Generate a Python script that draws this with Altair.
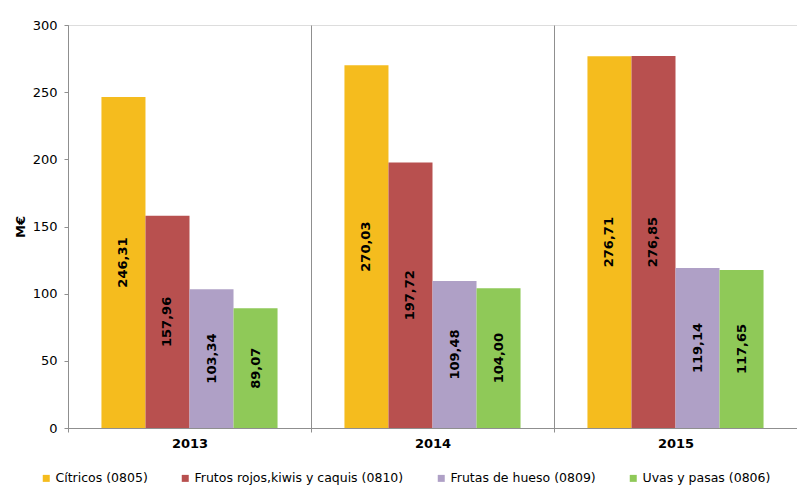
import altair as alt
import pandas as pd

years = ["2013", "2014", "2015"]
categories = ["Cítricos (0805)", "Frutos rojos,kiwis y caquis (0810)",
              "Frutas de hueso (0809)", "Uvas y pasas (0806)"]
values = {
    "Cítricos (0805)": [246.31, 270.03, 276.71],
    "Frutos rojos,kiwis y caquis (0810)": [157.96, 197.72, 276.85],
    "Frutas de hueso (0809)": [103.34, 109.48, 119.14],
    "Uvas y pasas (0806)": [89.07, 104.00, 117.65],
}
colors = ["#F5BC1E", "#B8504F", "#AFA0C6", "#8FC958"]

rows = []
for c in categories:
    for y, v in zip(years, values[c]):
        rows.append({"year": y, "cat": c, "value": v,
                     "label": f"{v:.2f}".replace(".", ",")})
df = pd.DataFrame(rows)

FONT = "DejaVu Sans"

x = alt.X("year:N", sort=years, title=None,
          scale=alt.Scale(paddingInner=0, paddingOuter=0),
          axis=alt.Axis(tickBand="extent", grid=True, gridColor="#8f8f8f",
                        gridWidth=1, domainColor="#8f8f8f", tickColor="#8f8f8f",
                        tickSize=4, labelFont=FONT, labelFontSize=13,
                        labelFontWeight="bold", labelColor="#000000",
                        labelPadding=5, labelAngle=0))
xo = alt.XOffset("cat:N", sort=categories,
                 scale=alt.Scale(paddingInner=0, paddingOuter=0.76))

base = alt.Chart(df)

bars = base.mark_bar().encode(
    x=x,
    xOffset=xo,
    y=alt.Y("value:Q", title="M€",
            scale=alt.Scale(domain=[0, 300], nice=False),
            axis=alt.Axis(values=[0, 50, 100, 150, 200, 250, 300], grid=False,
                          domainColor="#8f8f8f", tickColor="#8f8f8f", tickSize=4,
                          labelFont=FONT, labelFontSize=13, labelColor="#000000",
                          labelPadding=7, titleFont=FONT, titleFontSize=13,
                          titleFontWeight="bold", titleColor="#000000",
                          titlePadding=5)),
    color=alt.Color("cat:N", sort=categories,
                    scale=alt.Scale(domain=categories, range=colors),
                    legend=alt.Legend(title=None, orient="none", direction="horizontal",
                                      legendX=-28, legendY=447,
                                      symbolType="square", symbolSize=49,
                                      symbolStrokeWidth=0, labelFont=FONT,
                                      labelFontSize=12.5, labelColor="#000000",
                                      labelLimit=500,
                                      labelOffset=3, columnPadding=31, padding=0)),
)

labels = base.mark_text(angle=270, font=FONT, fontSize=13, fontWeight="bold",
                        color="#000000", align="center", baseline="middle").encode(
    x=alt.X("year:N", sort=years),
    xOffset=xo,
    y=alt.Y("mid:Q"),
    text="label:N",
).transform_calculate(mid="datum.value / 2")

chart = alt.layer(bars, labels).properties(
    width=729, height=403,
    autosize=alt.AutoSizeParams(type="none"),
    padding={"left": 60, "top": 17, "right": 0, "bottom": 60},
).configure_view(stroke=None).configure(background="white")

chart.save("out.html", embed_options={"renderer": "svg", "actions": False})
